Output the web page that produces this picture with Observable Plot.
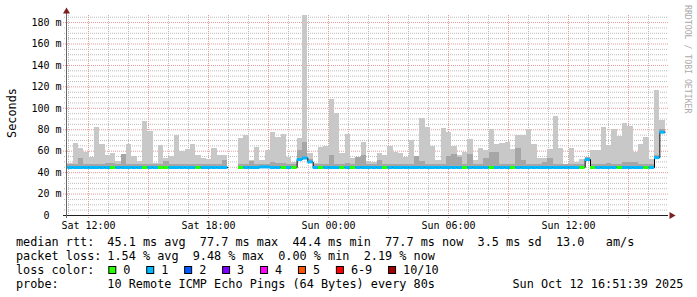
<!DOCTYPE html>
<html><head><meta charset="utf-8">
<script src="https://cdn.jsdelivr.net/npm/d3@7"></script>
<script src="https://cdn.jsdelivr.net/npm/@observablehq/plot@0.6"></script>
<style>html,body{margin:0;padding:0;background:#fff;} svg{display:block}</style>
</head><body><div id="chart"></div>
<script>
// ---- data ----
const rangeStart = "2025-10-11T10:54:00Z";
const rangeEnd   = "2025-10-12T16:54:00Z";
const firstBar   = "2025-10-11T10:58:00Z";
const stepMinutes = 16;
const yTop = 186.6;

const smokeMax = [
  48.8,67.4,62.2,59,54.4,82,66.2,56,57.8,50.4,
  57,66.2,55,50.4,87.7,78.4,48.8,65.3,53.4,55,
  74.6,60,61.6,66.2,56,53.4,52,62.2,56,56,
  null,null,71.5,74.6,51.3,63.7,51.3,60.6,77.7,73,
  75.6,54.4,49.7,71.5,186.6,57.5,48.5,63.7,64.4,108.2,
  94.9,57.5,75.6,52.9,54.4,68.4,50.7,49.7,57.5,56,
  64.4,59,58.1,54.4,70,55,90.2,82.4,64.6,51.3,
  80.8,77.7,64.4,56,59,70.9,51.3,62.2,60.6,80.2,
  66.2,67.4,68.4,61.6,74.6,74.6,80.2,66.2,52.9,52.9,
  61.6,92.4,62.2,48,62.2,49.7,52,54.4,60.6,60.6,
  82.4,65.3,80.2,73.7,86.1,83,59,66,73,52.2,
  116.6,88.6
];
const smokeDark = [
  47.2,47.5,53.2,47.2,47.5,47.8,47.5,48.5,48.5,47.2,
  57,47.2,47.2,47.2,47.5,47.5,47.2,47.2,50.5,47.5,
  47.5,47.8,47.5,47.2,47.2,47.2,47.2,47.8,47.2,51.3,
  null,null,47.5,48,50,48,47.2,47.5,49.5,48.5,
  48.5,47.2,47.2,60.6,68.4,52,47.2,48,48,56,
  48,47.2,48.5,47.2,54,56,47.2,47.2,51,48,
  48,47.5,47.2,47.2,47.5,55,50,47.5,47.2,47.2,
  47.5,55,56.9,54,47.5,56.9,47.2,47.5,53,59,
  59,47.5,47.5,47.5,62.2,51.3,47.5,47.2,47.2,49,
  53.2,47.5,47.5,47.2,47.5,47.2,47.2,54,47.2,47.2,
  47.5,48.5,48,47.5,49.5,49.5,49,47.5,47.5,47.2,
  56,80
];
const median = [
  44.8,44.8,44.8,44.8,44.8,44.8,44.8,44.8,44.8,44.8,
  44.8,44.8,44.8,44.8,44.8,44.8,44.8,44.8,44.8,44.8,
  44.8,44.8,44.8,44.8,44.8,44.8,44.8,44.8,44.8,44.8,
  null,null,44.8,44.8,44.8,44.8,45.3,45.3,44.8,44.8,
  44.8,44.8,44.8,52.2,53.6,50.0,44.8,44.8,44.8,44.8,
  44.8,44.8,44.8,44.8,44.8,44.8,44.8,44.8,44.8,44.8,
  44.8,44.8,44.8,44.8,44.8,44.8,44.8,44.8,44.8,44.8,
  44.8,44.8,44.8,44.8,44.8,44.8,44.8,44.8,44.8,44.8,
  44.8,44.8,44.8,44.8,44.8,44.8,44.8,44.8,44.8,44.8,
  44.8,44.8,44.8,44.8,44.8,44.8,44.8,52.2,44.8,44.8,
  44.8,44.8,44.8,44.8,44.8,44.8,44.8,44.8,44.8,44.8,
  54.0,77.7
];
const loss = [
  1,1,1,1,1,1,1,1,0,1,
  1,1,1,1,0,1,1,0,0,1,
  1,1,1,1,0,1,1,1,1,1,
  null,null,0,1,1,1,1,1,1,1,
  0,1,0,1,1,1,1,0,1,1,
  1,0,1,0,1,1,1,1,1,0,
  1,1,1,1,1,1,1,1,1,1,
  1,1,1,1,0,1,1,1,1,0,
  1,1,1,0,1,1,1,1,1,1,
  1,1,1,1,1,1,0,1,0,1,
  1,1,1,0,1,1,1,1,0,1,
  1,1
];

const lossColors = ["#26ff00","#00b8ff","#0059ff","#7e00ff","#ff00ff","#ff5500","#ff0000","#a10000"];
const lossLabels = ["0","1","2","3","4","5","6-9","10/10"];

const yMajor = [0,20,40,60,80,100,120,140,160,180];
const yMajorLabels = ["0\u00a0\u00a0","20 m","40 m","60 m","80 m","100 m","120 m","140 m","160 m","180 m"];
const yMinorStep = 5;
const xLabelTimes = ["2025-10-11T12:00:00Z","2025-10-11T18:00:00Z","2025-10-12T00:00:00Z","2025-10-12T06:00:00Z","2025-10-12T12:00:00Z"];
const xLabelTexts = ["Sat 12:00","Sat 18:00","Sun 00:00","Sun 06:00","Sun 12:00"];

const rttLabel = "median rtt:";
const rttStats = "45.1 ms avg  77.7 ms max  44.4 ms min  77.7 ms now  3.5 ms sd  13.0   am/s";
const lossLabel = "packet loss:";
const lossStats = "1.54 % avg  9.48 % max  0.00 % min  2.19 % now";
const colorLabel = "loss color:";
const probeLabel = "probe:";
const probeText = "10 Remote ICMP Echo Pings (64 Bytes) every 80s";
const stampText = "Sun Oct 12 16:51:39 2025";
const yTitle = "Seconds";
const watermark = "RRDTOOL / TOBI OETIKER";

// ---- build tables ----
const t0 = new Date(firstBar).getTime();
const stepMs = stepMinutes * 60000;
const bars = [];
const linePts = [];
median.forEach((m, i) => {
  const t1 = new Date(t0 + i * stepMs), t2 = new Date(t0 + (i + 1) * stepMs);
  if (m == null) { linePts.push({t: t1, v: NaN}); return; }
  bars.push({t1, t2, median: m, max: smokeMax[i], dark: smokeDark[i], loss: loss[i]});
  linePts.push({t: t1, v: m}, {t: t2, v: m});
});

const xDomain = [new Date(rangeStart), new Date(rangeEnd)];
const hours = d3.utcHour.range(xDomain[0], xDomain[1]);
const hourMajor = hours.filter(h => h.getUTCHours() % 3 === 0);
const hourMinor = hours.filter(h => h.getUTCHours() % 3 !== 0);
const yMinor = d3.range(yMinorStep, yTop, yMinorStep).filter(v => v % 20 !== 0);
const yMajorGrid = yMajor.filter(v => v > 0);
const xLabels = xLabelTimes.map((t, i) => ({t: new Date(t), label: xLabelTexts[i]}));

const gridGrey = "#bcbcbc", gridRed = "#e79a9a";
const mono = "DejaVu Sans Mono";

const chart = Plot.plot({
  width: 697, height: 297,
  marginLeft: 66, marginRight: 31, marginTop: 15, marginBottom: 82,
  x: {type: "utc", domain: xDomain, axis: null},
  y: {domain: [0, yTop], axis: null},
  style: {fontFamily: mono, background: "#fff", overflow: "visible"},
  marks: [
    Plot.ruleX(hourMinor, {stroke: gridGrey, strokeDasharray: "1,1", insetBottom: -2}),
    Plot.ruleY(yMinor, {stroke: gridGrey, strokeDasharray: "1,1", insetLeft: -2, insetRight: -2}),
    Plot.ruleX(hourMajor, {stroke: gridRed, strokeDasharray: "1,1", insetBottom: -3}),
    Plot.ruleY(yMajorGrid, {stroke: gridRed, strokeDasharray: "1,1", insetLeft: -3, insetRight: -2}),
    Plot.rect(bars, {x1: "t1", x2: "t2", y1: "median", y2: "max", fill: "#c8c8c8", shapeRendering: "crispEdges"}),
    Plot.rect(bars, {x1: "t1", x2: "t2", y1: "median", y2: "dark", fill: "#a6a6a6", shapeRendering: "crispEdges"}),
    Plot.line(linePts, {x: "t", y: "v", stroke: "#000", strokeWidth: 1}),
    Plot.ruleY(bars, {y: "median", x1: "t1", x2: "t2", stroke: d => lossColors[d.loss], strokeWidth: 3}),
    Plot.ruleY([0], {stroke: "#1f1f1f", insetLeft: -3, insetRight: -2}),
    Plot.ruleX([xDomain[0]], {stroke: "#666", insetTop: -2, insetBottom: -3}),
    Plot.dot([{t: xDomain[1], v: 0}], {x: "t", y: "v", symbol: "triangle", r: 2.6, fill: "#7f1f1f", stroke: null, rotate: 90, dx: 5}),
    Plot.dot([{t: xDomain[0], v: yTop}], {x: "t", y: "v", symbol: "triangle", r: 2.6, fill: "#7f1f1f", stroke: null, dy: -4}),
    Plot.text(yMajor, {y: d => d, text: (d, i) => yMajorLabels[i], frameAnchor: "left", textAnchor: "end", dx: -5, fontSize: 10, fill: "#000"}),
    Plot.text(xLabels, {x: "t", y: () => 0, text: "label", lineAnchor: "bottom", dy: 13, fontSize: 10, fill: "#000"})
  ]
});
document.getElementById("chart").appendChild(chart);

// ---- legend & labels (text below/around the plot) ----
const svg = d3.select(chart);
const lf = 11.84, cw = 7.13;
const addText = (x, y, s, opts = {}) => svg.append("text")
  .attr("x", x).attr("y", y).attr("xml:space", "preserve")
  .style("white-space", "pre")
  .attr("font-family", mono).attr("font-size", opts.size || lf)
  .attr("fill", opts.fill || "#000")
  .attr("text-anchor", opts.anchor || "start")
  .attr("transform", opts.transform || null)
  .text(s);

const lineY = [245.6, 259.8, 274.0, 288.2];
const col2 = 107.3;
addText(16, lineY[0], rttLabel);
addText(col2, lineY[0], rttStats);
addText(16, lineY[1], lossLabel);
addText(col2, lineY[1], lossStats);
addText(16, lineY[2], colorLabel);
let cx = col2 + 1;
lossLabels.forEach((lab, i) => {
  svg.append("rect").attr("x", cx + 0.5).attr("y", lineY[2] - 7.5).attr("width", 7).attr("height", 7)
    .attr("fill", lossColors[i]).attr("stroke", "#000").attr("stroke-width", 1);
  addText(cx + 15, lineY[2], lab);
  cx = cx + 15 + lab.length * cw + 15.8;
});
addText(16, lineY[3], probeLabel);
addText(col2, lineY[3], probeText);
addText(512.5, lineY[3], stampText);

addText(0, 0, yTitle, {anchor: "middle", transform: "translate(15.5,113) rotate(-90)"});
addText(0, 0, watermark, {size: 8.2, fill: "#aaaaaa", transform: "translate(685,5) rotate(90)"});
</script>
</body></html>
